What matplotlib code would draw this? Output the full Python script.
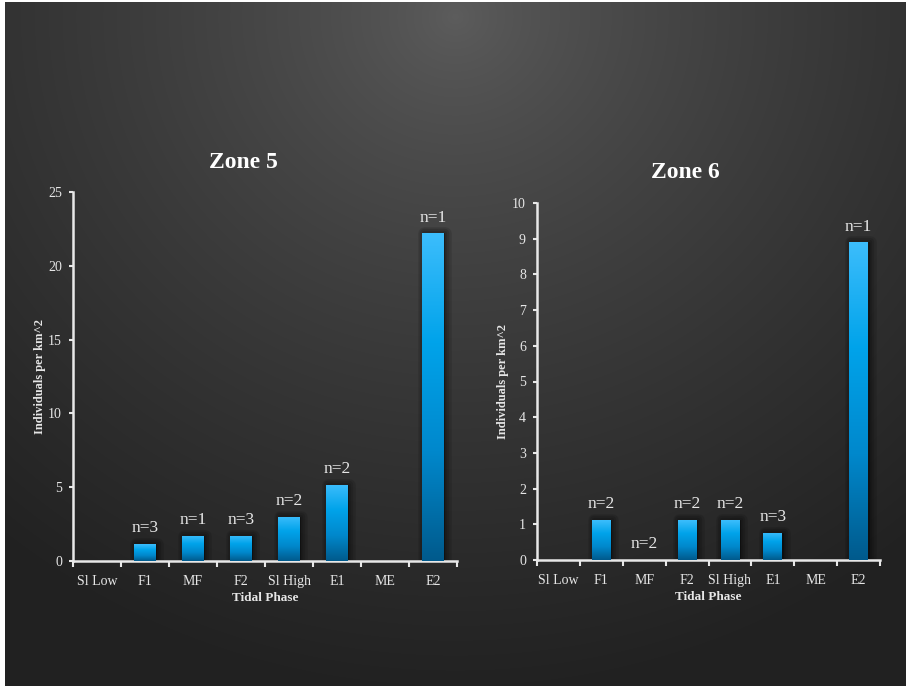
import numpy as np
import matplotlib
matplotlib.use('Agg')
import matplotlib.pyplot as plt
from matplotlib.colors import LinearSegmentedColormap
from matplotlib.patches import Rectangle

# data
phases = ['Sl Low', 'F1', 'MF', 'F2', 'Sl High', 'E1', 'ME', 'E2']
zone5_vals = [0, 1.15, 1.7, 1.7, 3.0, 5.15, 0, 22.2]
zone5_n = [None, 'n=3', 'n=1', 'n=3', 'n=2', 'n=2', None, 'n=1']
zone6_vals = [0, 1.12, 0, 1.12, 1.12, 0.76, 0, 8.9]
zone6_n = [None, 'n=2', 'n=2', 'n=2', 'n=2', 'n=3', None, 'n=1']

plt.rcParams['font.family'] = ['Liberation Serif', 'DejaVu Serif']

fig = plt.figure(figsize=(9.08, 6.86), dpi=100)
fig.patch.set_facecolor('white')

# radial gradient background
bg = fig.add_axes([5/908, 0, 1 - 7/908, 1 - 2/686])
bg.set_axis_off()
yy, xx = np.mgrid[0:1:300j, 0:1:400j]
r = np.sqrt(((xx - 0.5) / 0.8) ** 2 + ((yy - 0.02) / 1.0) ** 2)
r = np.clip(r, 0, 1)
shade = 0.365 - 0.235 * r ** 0.75
bg.imshow(np.dstack([shade, shade, shade]), extent=[0, 1, 0, 1], origin='upper',
          aspect='auto', interpolation='bilinear')
bg.set_xlim(0, 1)
bg.set_ylim(0, 1)

bar_cmap = LinearSegmentedColormap.from_list('bars', ['#005a8c', '#0088cc', '#00a3ea', '#3cbdfc'])
grad = np.linspace(0, 1, 256).reshape(-1, 1)
txt_col = '#e6e6e6'
spine_col = '#e8e8e8'


def draw_zone(rect, vals, labels, ymax, step, title, title_x, title_y, ylabpad):
    ax = fig.add_axes(rect)
    ax.patch.set_alpha(0)
    x = np.arange(len(phases))
    width = 0.44
    bars = ax.bar(x, vals, width=width, color='none', edgecolor='none', zorder=3)
    for b, v in zip(bars, vals):
        if v <= 0:
            continue
        x0 = b.get_x()
        # soft shadow
        for lw in [9, 6, 3]:
            ax.add_patch(Rectangle((x0 + 0.04, 0), width, v, facecolor='black',
                                   edgecolor='black', linewidth=lw, alpha=0.12,
                                   zorder=2, joinstyle='round'))
        im = ax.imshow(grad, extent=[x0, x0 + width, 0, v], origin='lower',
                       aspect='auto', cmap=bar_cmap, zorder=3)
        im.set_clip_path(b)
    for xi, v, lab in zip(x, vals, labels):
        if lab:
            ax.annotate(lab, (xi, v), xytext=(0, 5.5), textcoords='offset points',
                        ha='center', va='bottom', color=txt_col, fontsize=12.5, zorder=4)
    ax.set_xlim(-0.5, len(phases) - 0.5)
    ax.set_ylim(0, ymax)
    ax.set_yticks(np.arange(0, ymax + step / 2, step))
    ax.set_xticks(x)
    ax.set_xticklabels(phases)
    ax.set_xticks(np.arange(-0.5, len(phases)), minor=True)
    ax.tick_params(axis='x', which='major', length=0, pad=10, labelsize=10, labelcolor=txt_col)
    ax.tick_params(axis='x', which='minor', length=4, width=1.5, color=spine_col, direction='out')
    ax.tick_params(axis='y', length=3, width=1.5, color=spine_col, direction='out',
                   labelsize=10, labelcolor=txt_col, pad=5)
    for s in ['top', 'right']:
        ax.spines[s].set_visible(False)
    for s in ['left', 'bottom']:
        ax.spines[s].set_color(spine_col)
        ax.spines[s].set_linewidth(1.8)
    ax.set_xlabel('Tidal Phase', color=txt_col, fontsize=9.5, fontweight='bold', labelpad=3)
    ax.set_ylabel('Individuals per km^2', color=txt_col, fontsize=9, fontweight='bold',
                  labelpad=ylabpad)
    fig.text(title_x, title_y, title, ha='center', va='center',
             color='white', fontsize=17, fontweight='bold')
    return ax


draw_zone([73/908, 1 - 561/686, 384/908, 369/686], zone5_vals, zone5_n, 25, 5,
          'Zone 5', 243/908, 1 - 162/686, 1.5)
draw_zone([537/908, 1 - 560/686, 343/908, 357/686], zone6_vals, zone6_n, 10, 1,
          'Zone 6', 685/908, 1 - 172/686, 2)

fig.savefig('out.png', dpi=100, facecolor=fig.get_facecolor())
